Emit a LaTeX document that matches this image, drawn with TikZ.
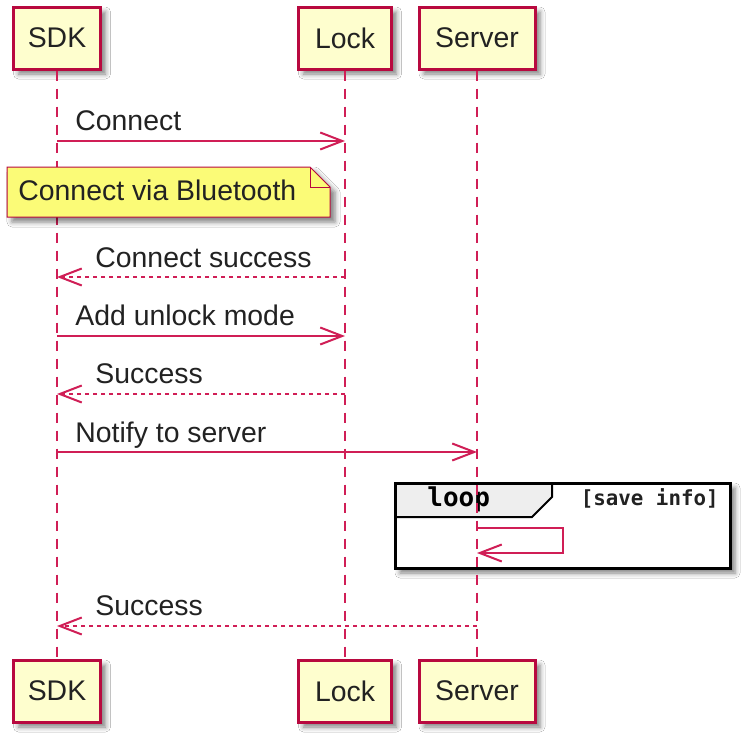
\documentclass[tikz,border=0pt]{standalone}
\usepackage{fontspec}
\setmainfont{Liberation Sans}
\newfontfamily\dejamono{DejaVu Sans Mono}
\usetikzlibrary{arrows.meta,shadows.blur}
\definecolor{pbord}{HTML}{B8093F}
\definecolor{pred}{HTML}{D01E56}
\definecolor{pfill}{HTML}{FEFECE}
\definecolor{nfill}{HTML}{FBFB77}
\definecolor{tabfill}{HTML}{EEEEEE}
\definecolor{txt}{HTML}{222222}
\tikzset{
  shd/.style={blur shadow={shadow xshift=2.5pt, shadow yshift=-2.5pt, shadow blur radius=2.5pt, shadow opacity=50}},
  part/.style={draw=pbord, line width=1.5pt, fill=pfill, minimum height=31pt, inner sep=0pt, text=txt, font=\fontsize{14.2}{17}\selectfont, shd},
  life/.style={draw=pred, line width=1pt, dash pattern=on 5pt off 4pt},
  msg/.style={draw=pred, line width=1pt, -{Straight Barb[length=11pt,width=8.5pt]}},
  ret/.style={msg, dash pattern=on 2pt off 2pt},
  lbl/.style={anchor=base west, inner sep=0pt, text=txt, font=\fontsize{14.2}{17}\selectfont},
  grp/.style={anchor=base west, inner sep=0pt, font=\dejamono\bfseries\fontsize{13}{15}\selectfont},
  cond/.style={anchor=base east, inner sep=0pt, text=txt, font=\dejamono\bfseries\fontsize{10.4}{13}\selectfont},
}
\begin{document}
\begin{tikzpicture}[x=0.5pt,y=-0.5pt]
\fill[white] (0,0) rectangle (744,744);
\useasboundingbox (0,0) rectangle (744,744);

% loop frame (behind lifelines)
\fill[white, shd] (395,483) rectangle (730,568);
\draw[line width=1pt, fill=tabfill] (395,483) -- (552,483) -- (552,497) -- (532,517) -- (395,517) -- cycle;
\draw[line width=1.5pt] (395,483) rectangle (730,568);
\node[grp] (looplbl) at (427,506) {loop};
\node[cond] (condlbl) at (719,505) {[save info]};

% participants
\node[part, minimum width=43.5pt] (sdkT) at (57,38) {SDK};
\node[part, minimum width=46.5pt] (lockT) at (345,38) {Lock};
\node[part, minimum width=58pt] (srvT) at (477,38) {Server};
\node[part, minimum width=43.5pt] (sdkB) at (57,691) {SDK};
\node[part, minimum width=46.5pt] (lockB) at (345,691) {Lock};
\node[part, minimum width=58pt] (srvB) at (477,691) {Server};

% lifelines
\draw[life] (sdkT.south) -- (sdkB.north);
\draw[life] (lockT.south) -- (lockB.north);
\draw[life] (srvT.south) -- (srvB.north);

% message end points on lifelines
\coordinate (a1) at (57,141);  \coordinate (b1) at (345,141);
\coordinate (a2) at (57,277);  \coordinate (b2) at (345,277);
\coordinate (a3) at (57,336);  \coordinate (b3) at (345,336);
\coordinate (a4) at (57,394);  \coordinate (b4) at (345,394);
\coordinate (a5) at (57,452);  \coordinate (c5) at (477,452);
\coordinate (s1) at (477,528); \coordinate (s2) at (477,553);
\coordinate (a6) at (57,626);  \coordinate (c6) at (477,626);

% messages
\draw[msg] (a1) -- (b1);
\node[lbl] (l1) at (75,130) {Connect};

% note
\draw[draw=pbord, line width=0.5pt, fill=nfill, shd] (7,167) -- (310,167) -- (330,187) -- (330,217) -- (7,217) -- cycle;
\draw[draw=pbord, line width=0.5pt] (310,167) -- (310,187) -- (330,187);
\node[lbl] (note) at (18,200) {Connect via Bluetooth};

\draw[ret] (b2) -- (a2);
\node[lbl] (l2) at (95,267) {Connect success};

\draw[msg] (a3) -- (b3);
\node[lbl] (l3) at (75,325) {Add unlock mode};

\draw[ret] (b4) -- (a4);
\node[lbl] (l4) at (95,383) {Success};

\draw[msg] (a5) -- (c5);
\node[lbl] (l5) at (75,442) {Notify to server};

\draw[msg] (s1) -- ++(86,0) |- (s2);

\draw[ret] (c6) -- (a6);
\node[lbl] (l6) at (95,615) {Success};
\end{tikzpicture}
\end{document}
